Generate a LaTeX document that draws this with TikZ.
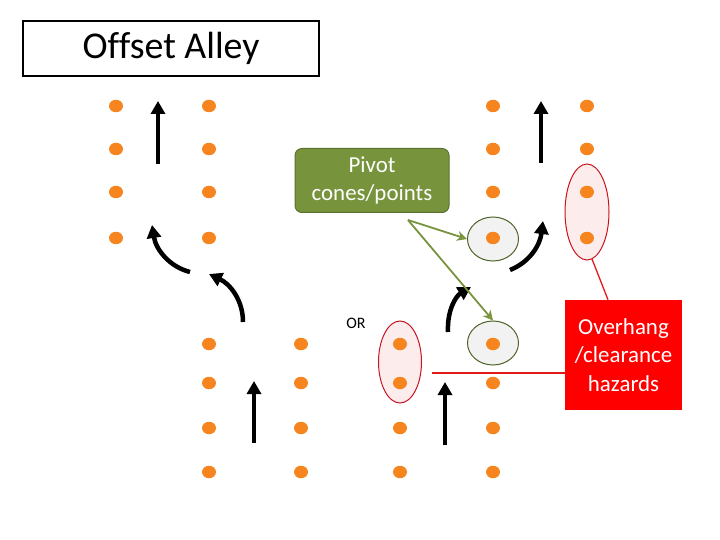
\documentclass[tikz,border=0pt]{standalone}
\usepackage{fontspec}
\setmainfont{Carlito}[Ligatures=NoCommon]
\usetikzlibrary{shapes.geometric,arrows.meta}
\definecolor{dotorange}{RGB}{246,133,31}
\definecolor{olive}{RGB}{119,147,60}
\definecolor{oliveline}{RGB}{79,98,40}
\definecolor{hazred}{RGB}{255,0,0}
\definecolor{darkred}{RGB}{200,20,30}
\definecolor{linered}{RGB}{225,25,25}
\definecolor{pinkfill}{RGB}{253,236,236}
\definecolor{grayfill}{RGB}{242,242,242}
\tikzset{
  dot/.style={ellipse,fill=dotorange,minimum width=14bp,minimum height=12.5bp,inner sep=0pt},
  bigarrow/.style={line width=4.5bp,-{Triangle[width=14bp,length=13bp]}},
  pivotring/.style={ellipse,draw=oliveline,fill=grayfill,line width=1bp,minimum width=51bp,minimum height=44bp,inner sep=0pt},
  hazring/.style={ellipse,draw=darkred,fill=pinkfill,line width=1bp,inner sep=0pt},
  greenarrow/.style={draw=olive,line width=1.8bp,-{Stealth[width=10bp,length=10bp,open]}},
  redline/.style={draw=linered,line width=1.3bp},
}
\begin{document}
\begin{tikzpicture}[x=1bp,y=-1bp]
\useasboundingbox (0,0) rectangle (720,540);
% title
\node[draw,line width=1.2bp,minimum width=296bp,minimum height=55bp,font=\fontsize{38}{40}\selectfont] (title) at (171,48.5) {Offset Alley};
% hazard rings (behind dots)
\node[hazring,minimum width=44bp,minimum height=96bp] (hz1) at (587,212) {};
\node[hazring,minimum width=43bp,minimum height=82bp] (hz2) at (400,362) {};
% pivot rings
\node[pivotring] (pv1) at (493,239) {};
\node[pivotring] (pv2) at (493,343) {};
% dots
\foreach \r/\y in {1/106,2/149,3/192,4/238}{
  \node[dot] (lta\r) at (116,\y) {};
  \node[dot] (ltb\r) at (209,\y) {};
  \node[dot] (rta\r) at (493,\y) {};
  \node[dot] (rtb\r) at (587,\y) {};
}
\foreach \r/\y in {1/344,2/383,3/428,4/472}{
  \node[dot] (lba\r) at (209,\y) {};
  \node[dot] (lbb\r) at (301,\y) {};
  \node[dot] (rba\r) at (400,\y) {};
  \node[dot] (rbb\r) at (493,\y) {};
}
% straight arrows
\coordinate (s1a) at (158,164); \coordinate (s1b) at (158,101);
\coordinate (s2a) at (254,443); \coordinate (s2b) at (254,381);
\coordinate (s3a) at (541,163); \coordinate (s3b) at (541,101);
\coordinate (s4a) at (445,445); \coordinate (s4b) at (445,382);
\draw[bigarrow] (s1a) -- (s1b);
\draw[bigarrow] (s2a) -- (s2b);
\draw[bigarrow] (s3a) -- (s3b);
\draw[bigarrow] (s4a) -- (s4b);
% curved arrows left
\coordinate (c1a) at (243,322); \coordinate (c1b) at (209,274);
\coordinate (c2a) at (190,272); \coordinate (c2b) at (152,225);
\draw[bigarrow] (c1a) .. controls (243,300) and (230,284) .. (c1b);
\draw[bigarrow] (c2a) .. controls (170,267) and (156,250) .. (c2b);
% curved arrows right
\coordinate (c3a) at (510,270); \coordinate (c3b) at (543,221);
\coordinate (c4a) at (448,332); \coordinate (c4b) at (471,287);
\draw[bigarrow] (c3a) .. controls (530,262) and (540,245) .. (c3b);
\draw[bigarrow] (c4a) .. controls (447,310) and (456,296) .. (c4b);
% pivot box
\node[draw=oliveline!70!olive,fill=olive,rounded corners=7bp,line width=1bp,minimum width=154bp,minimum height=64bp,text=white,align=center,font=\fontsize{23}{28}\selectfont] (pivot) at (372,180.5) {Pivot\\cones/points};
\coordinate (gsrc) at (408,220);
\draw[greenarrow] (gsrc) -- (pv1.west);
\draw[greenarrow] (gsrc) -- (pv2.north);
% hazard box
\node[fill=hazred,minimum width=117bp,minimum height=110bp,text=white,align=center,font=\fontsize{23}{28.5}\selectfont] (haz) at (623.5,355) {Overhang\\/clearance\\hazards};
\coordinate (hzl) at (432,373);
\coordinate (hzt) at (592,259);
\draw[redline] (haz.north -| 608,0) -- (hzt);
\draw[redline] (haz.west |- hzl) -- (hzl);
% OR
\node[font=\fontsize{16}{18}\selectfont] (or) at (356,323) {OR};
\end{tikzpicture}
\end{document}
